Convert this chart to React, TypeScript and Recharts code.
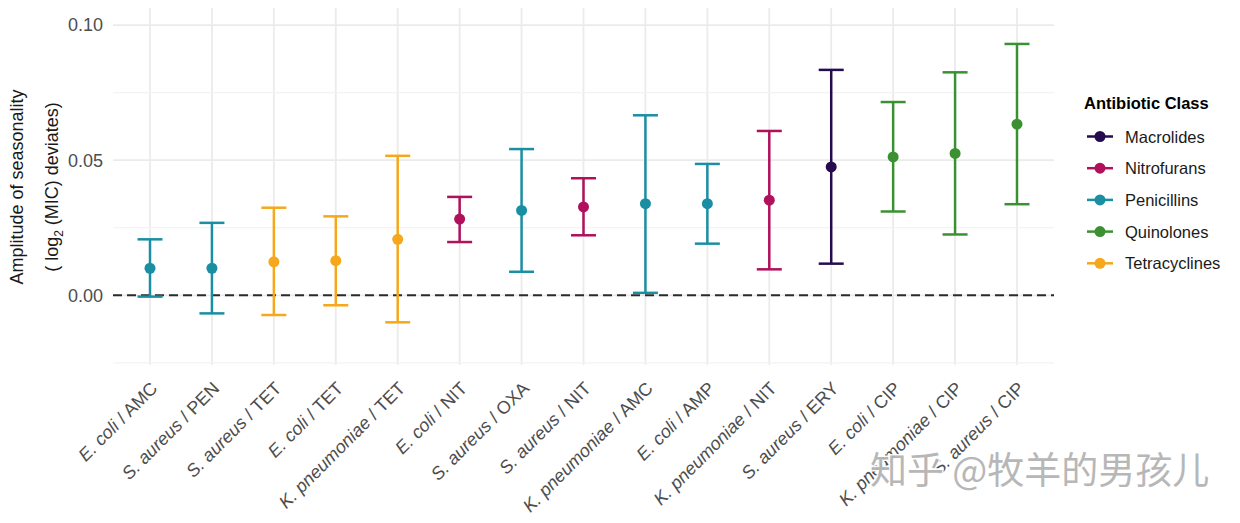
import React from "react";
import {
  CartesianGrid,
  ComposedChart,
  ErrorBar,
  Line,
  ReferenceLine,
  XAxis,
  YAxis,
} from "recharts";

const species = [
  "E. coli", "S. aureus", "S. aureus", "E. coli", "K. pneumoniae",
  "E. coli", "S. aureus", "S. aureus", "K. pneumoniae", "E. coli",
  "K. pneumoniae", "S. aureus", "E. coli", "K. pneumoniae", "S. aureus",
];
const drugs = [
  "AMC", "PEN", "TET", "TET", "TET",
  "NIT", "OXA", "NIT", "AMC", "AMP",
  "NIT", "ERY", "CIP", "CIP", "CIP",
];
const drugClass = [
  "Penicillins", "Penicillins", "Tetracyclines", "Tetracyclines", "Tetracyclines",
  "Nitrofurans", "Penicillins", "Nitrofurans", "Penicillins", "Penicillins",
  "Nitrofurans", "Macrolides", "Quinolones", "Quinolones", "Quinolones",
];
const estimates = [0.0100, 0.0100, 0.0124, 0.0128, 0.0207, 0.0282, 0.0314, 0.0327, 0.0339, 0.0339, 0.0352, 0.0475, 0.0512, 0.0525, 0.0633];
const lowerCI = [-0.0005, -0.0067, -0.0073, -0.0037, -0.0100, 0.0197, 0.0087, 0.0222, 0.0009, 0.0191, 0.0096, 0.0117, 0.0310, 0.0225, 0.0337];
const upperCI = [0.0207, 0.0268, 0.0324, 0.0292, 0.0516, 0.0364, 0.0541, 0.0433, 0.0666, 0.0486, 0.0608, 0.0834, 0.0715, 0.0825, 0.0930];

const classes = ["Macrolides", "Nitrofurans", "Penicillins", "Quinolones", "Tetracyclines"];
const classColors = ["#260c4f", "#b0105c", "#1a8fa3", "#3b9131", "#f5a81c"];

const yTicks = [0, 0.05, 0.1];
const minorTicks = [-0.025, 0.025, 0.075];

const labels = species.map((sp, i) => `${sp} / ${drugs[i]}`);

const data = labels.map((label, i) => {
  const row: Record<string, any> = { label };
  const cls = drugClass[i];
  row[cls] = estimates[i];
  row[cls + "Err"] = [estimates[i] - lowerCI[i], upperCI[i] - estimates[i]];
  return row;
});

const FONT = "'Liberation Sans', Arial, sans-serif";

function XTick(props: any) {
  const { x, y, payload } = props;
  const i = labels.indexOf(payload.value);
  return (
    <g transform={`translate(${x - 1},${y + 15})`}>
      <text
        transform="rotate(-45)"
        textAnchor="end"
        dy="0.75em"
        fontSize={18}
        fill="#4d4d4d"
      >
        <tspan fontStyle="italic">{species[i]}</tspan>
        <tspan> / {drugs[i]}</tspan>
      </text>
    </g>
  );
}

function YTitle() {
  return (
    <g fontSize={18} fill="#1a1a1a">
      <text transform="translate(23,187) rotate(-90)" textAnchor="middle">
        Amplitude of seasonality
      </text>
      <text transform="translate(58,187) rotate(-90)" textAnchor="middle">
        ( log<tspan fontSize={12} dy={5}>2</tspan>
        <tspan dy={-5}> (MIC) deviates)</tspan>
      </text>
    </g>
  );
}

export default function App() {
  return (
    <div
      style={{
        position: "absolute",
        left: 0,
        top: 0,
        width: 1240,
        height: 523,
        background: "#fff",
        fontFamily: FONT,
      }}
    >
      <ComposedChart
        width={1240}
        height={523}
        data={data}
        margin={{ top: 8, right: 186, left: 0, bottom: 0 }}
      >
        <CartesianGrid
          stroke="#ebebeb"
          strokeWidth={1.8}
          horizontalValues={yTicks}
          verticalValues={labels}
        />
        {minorTicks.map((v) => (
          <ReferenceLine key={v} y={v} stroke="#f3f3f3" strokeWidth={1.2} />
        ))}
        <XAxis
          dataKey="label"
          interval={0}
          padding={{ left: 37, right: 37 }}
          height={158}
          tickLine={false}
          axisLine={false}
          tickSize={0}
          tickMargin={0}
          tick={<XTick />}
        />
        <YAxis
          type="number"
          width={113}
          domain={[-0.0258, 0.1063]}
          allowDataOverflow
          ticks={yTicks}
          tickFormatter={(v: number) => v.toFixed(2)}
          tick={{ fill: "#4d4d4d", fontSize: 18 }}
          tickLine={false}
          axisLine={false}
          tickSize={0}
          tickMargin={10}
          label={<YTitle />}
        />
        <ReferenceLine y={0} stroke="#2b2b2b" strokeWidth={2} strokeDasharray="9 5" />
        {classes.map((cls, k) => (
          <Line
            key={cls}
            dataKey={cls}
            stroke="none"
            isAnimationActive={false}
            activeDot={false}
            dot={{ r: 5.5, fill: classColors[k], stroke: "none" }}
          >
            <ErrorBar
              dataKey={cls + "Err"}
              direction="y"
              width={12.5}
              stroke={classColors[k]}
              strokeWidth={2.5}
              isAnimationActive={false}
            />
          </Line>
        ))}
      </ComposedChart>

      <svg
        width={1240}
        height={523}
        style={{ position: "absolute", left: 0, top: 0, pointerEvents: "none" }}
      >
        <text x={1084} y={109} fontSize={16.5} fontWeight="bold" fill="#000">
          Antibiotic Class
        </text>
        {classes.map((cls, k) => {
          const cy = 136.5 + k * 31.7;
          return (
            <g key={cls}>
              <line x1={1087} x2={1113} y1={cy} y2={cy} stroke={classColors[k]} strokeWidth={2.5} />
              <circle cx={1100} cy={cy} r={5.5} fill={classColors[k]} />
              <text x={1125} y={cy + 6} fontSize={16.5} fill="#1a1a1a">
                {cls}
              </text>
            </g>
          );
        })}
        <text
          x={870}
          y={484}
          fontSize={37}
          fontFamily="'Noto Sans CJK SC', sans-serif"
          fill="#b4b4b4"
          stroke="#ffffff"
          strokeWidth={3}
          paintOrder="stroke"
          opacity={0.95}
        >
          知乎 @牧羊的男孩儿
        </text>
      </svg>
    </div>
  );
}
